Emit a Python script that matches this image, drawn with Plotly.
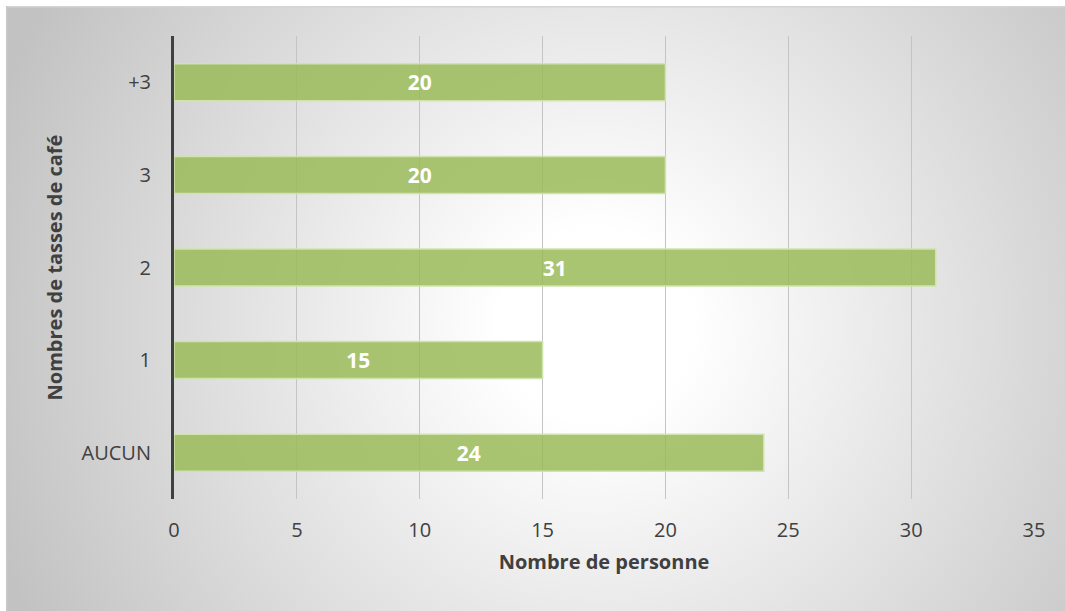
import plotly.graph_objects as go
import urllib.parse

categories = ["AUCUN", "1", "2", "3", "+3"]
values = [24, 15, 31, 20, 20]
x_ticks = [0, 5, 10, 15, 20, 25, 30, 35]

W, H = 1065, 611
ML, MR, MT, MB = 174, 31, 36, 112
PW, PH = W - ML - MR, H - MT - MB

svg = (
    '<svg xmlns="http://www.w3.org/2000/svg" width="1059" height="605" viewBox="0 0 1059 605">'
    '<defs><radialGradient id="g" gradientUnits="userSpaceOnUse" cx="590" cy="320" r="640">'
    '<stop offset="0" stop-color="#ffffff"/><stop offset="0.15" stop-color="#ffffff"/>'
    '<stop offset="1" stop-color="#c2c2c2"/></radialGradient></defs>'
    '<rect x="0" y="0" width="1059" height="605" fill="url(#g)"/>'
    '<line x1="0" y1="0.5" x2="1059" y2="0.5" stroke="#d4d4d4" stroke-width="2"/>'
    '<line x1="0.5" y1="0" x2="0.5" y2="605" stroke="#c8c8c8" stroke-width="2"/>'
    '</svg>'
)
src = "data:image/svg+xml;charset=utf-8," + urllib.parse.quote(svg)

fig = go.Figure()
fig.add_trace(go.Bar(
    x=values, y=categories, orientation="h",
    marker=dict(color="rgba(155,187,89,0.85)", line=dict(color="#cfe3ad", width=1.5)),
    width=0.4,
    text=values, texttemplate="<b>%{text}</b>", textposition="inside",
    insidetextanchor="middle",
    textfont=dict(color="white", size=21, family="Open Sans"),
))

fig.add_layout_image(dict(
    source=src, xref="paper", yref="paper",
    x=(6 - ML) / PW, y=(H - MB - 6) / PH,
    sizex=(W - 6) / PW, sizey=(H - 6) / PH,
    sizing="stretch", xanchor="left", yanchor="top", layer="below",
))

fig.update_layout(
    width=W, height=H,
    margin=dict(l=ML, r=MR, t=MT, b=MB, pad=0),
    paper_bgcolor="white", plot_bgcolor="rgba(0,0,0,0)",
    font=dict(family="Open Sans", color="#404040", size=20),
    showlegend=False,
    uniformtext=dict(minsize=8, mode="show"),
    xaxis=dict(
        range=[0, 35], tickvals=x_ticks, showgrid=True, gridcolor="#c4c4c4", gridwidth=1,
        zeroline=False, showline=False, ticks="", ticklabelstandoff=17,
        tickfont=dict(size=20, color="#404040"),
        title=dict(text="<b>Nombre de personne</b>", font=dict(size=20, color="#404040"), standoff=12),
        fixedrange=True,
    ),
    yaxis=dict(
        categoryorder="array", categoryarray=categories,
        showline=True, linecolor="#404040", linewidth=3, showgrid=False, zeroline=False,
        ticks="", ticklabelstandoff=16,
        tickfont=dict(size=20, color="#404040"),
        title=dict(text="<b>Nombres de tasses de café</b>", font=dict(size=20, color="#404040"), standoff=14),
        fixedrange=True,
    ),
)

fig.write_html("out.html")
